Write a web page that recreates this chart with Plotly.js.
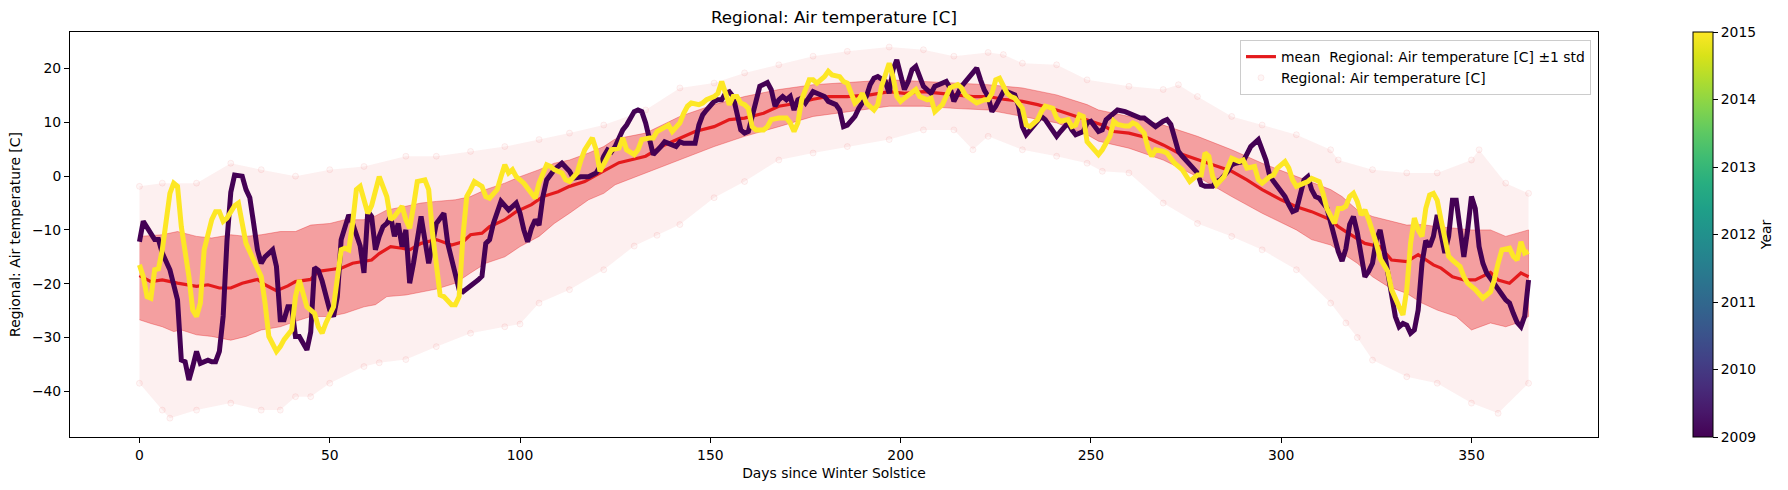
<!DOCTYPE html>
<html><head><meta charset="utf-8">
<script src="https://cdn.plot.ly/plotly-3.0.1.min.js"></script>
<style>body{margin:0;background:#fff}</style>
</head><body>
<div id="chart" style="width:1788px;height:490px"></div>
<script>
// ---- data: [day since winter solstice, temperature C] ----
const year2009 = [[0,-12.2],[1,-8.4],[4,-11.8],[5,-11.8],[6,-14.3],[8,-17.4],[10,-23],[11,-34.2],[12,-34.5],[13,-37.9],[14,-35.4],[15,-32.6],[16,-34.8],[18,-34.2],[19,-34.5],[20,-34.5],[21,-32.6],[22,-26],[23,-12],[24,-3],[25,0.2],[27,0],[28,-2.5],[29,-4],[30,-8.8],[31,-13.7],[32,-16.2],[33,-15],[35,-13.7],[36,-16.8],[37,-26.7],[38,-26.7],[39,-24.3],[40,-24.3],[41,-29.8],[42,-29.8],[44,-32.3],[45,-29],[46,-17],[47,-17.5],[48,-19.5],[49,-22.4],[50,-24.9],[51,-26.1],[52,-22.4],[53,-11.8],[55,-7.2],[56,-8.8],[58,-13],[59,-18],[60,-6.5],[61,-7.5],[62,-13.7],[63,-11.2],[64,-9.4],[65,-8.8],[66,-7.5],[67,-11.2],[68,-8.8],[69,-13.1],[70,-10],[71,-19.9],[72,-16.2],[74,-7.5],[76,-16.2],[78,-8.8],[80,-6.9],[81,-12.5],[84,-21.1],[85,-21.5],[87,-20.5],[89,-19.3],[90,-18.6],[91,-12.5],[92,-11.8],[93,-8.8],[95,-4.7],[96,-5.6],[97,-6.3],[99,-5],[100,-6.9],[101,-10],[102,-12.2],[103,-9.7],[104,-8.1],[105,-9.1],[106,-3.8],[107,-0.7],[109,1.2],[111,2.4],[113,0.9],[114,-0.4],[116,-0.1],[118,-0.1],[120,0.6],[121,1.8],[122,3.7],[123,4.9],[124,4.5],[125,5.5],[127,8.6],[128,9.5],[130,12],[131,12.3],[132,12],[133,9.9],[134,6.8],[135,4],[137,5.5],[138,6.4],[139,6.1],[141,5.5],[142,6.4],[143,6.1],[145,6.1],[146,6.1],[147,9.5],[148,11.4],[149,12.3],[151,13.9],[152,14.2],[153,14.2],[154,15.4],[155,15.7],[156,14.8],[157,11.1],[158,8.6],[159,8],[160,8.3],[161,11.1],[162,14.2],[163,16.7],[165,17.4],[166,16.1],[167,13],[168,14.2],[169,14.8],[170,14.2],[171,14.8],[172,12.3],[173,14.2],[174,14.5],[175,13.6],[177,15.7],[178,15.4],[180,14.8],[181,13.9],[183,13.3],[184,12.3],[185,9.2],[186,9.5],[187,10.5],[188,11.1],[189,12.6],[191,14.8],[192,17],[193,18.2],[194,18.5],[196,17.6],[197,15.4],[198,19.8],[199,21.6],[200,18.5],[201,16.1],[202,17.6],[203,19.8],[204,20.4],[205,18.8],[206,16.7],[208,15.4],[209,16.7],[210,17],[212,17.6],[213,16.4],[214,13.9],[216,16.7],[217,17.6],[218,18.5],[220,20.1],[221,17.9],[222,16],[223,14.8],[224,12],[225,13],[226,14.2],[227,15.7],[228,15.7],[230,15.1],[231,13],[232,9.2],[233,7.7],[234,8.6],[236,10.2],[237,11.1],[238,10.5],[240,8.6],[241,7.4],[242,8.3],[244,9.9],[245,8.6],[246,7.7],[248,8.3],[249,9.9],[250,10.2],[251,9.2],[252,8.3],[253,8.6],[254,10.5],[256,11.7],[257,12.3],[259,12],[260,11.7],[262,11.1],[263,10.8],[264,10.8],[266,9.9],[267,9.2],[269,10.2],[270,10.5],[271,9.6],[272,6.8],[273,4.6],[274,3.7],[276,2.1],[278,0.6],[279,-1.6],[280,-1.9],[282,-1.9],[283,-1],[284,-0.7],[286,0.9],[287,2.1],[288,2.4],[290,2.7],[291,3.9],[292,5.5],[294,6.8],[295,5],[296,3],[297,0],[298,-1],[299,-1.9],[301,-3.8],[302,-5.3],[303,-6.6],[304,-6.3],[305,-3.2],[306,-0.7],[307,-0.1],[308,-2.5],[309,-3.8],[310,-4.1],[312,-5.9],[313,-8.8],[314,-11.8],[315,-14],[316,-15.8],[317,-13.5],[318,-9],[319,-7.5],[320,-10.5],[321,-15],[322,-18.7],[323,-17.7],[324,-16.2],[325,-11.8],[326,-10],[327,-13.7],[328,-18.1],[329,-22.4],[330,-26.1],[331,-28],[332,-27.4],[333,-27.7],[334,-29.2],[335,-28.6],[336,-24.9],[337,-16.2],[338,-12],[339,-13.1],[340,-11.2],[341,-7.2],[342,-10.3],[343,-14.3],[344,-11.2],[345,-4.5],[346,-4.5],[347,-10.6],[348,-15],[349,-10],[350,-3.8],[351,-6],[352,-13.1],[353,-16.2],[354,-18],[355,-19],[356,-19.9],[357,-21.1],[358,-22],[359,-23],[360,-23.6],[361,-25.5],[362,-27.2],[363,-28],[364,-26],[365,-19.3]];

const year2015 = [[0,-16.5],[1,-18.7],[2,-22.4],[3,-22.7],[4,-17.4],[5,-17.2],[6,-13.7],[8,-3.2],[9,-1.3],[10,-1.9],[11,-9.4],[13,-18.7],[14,-24.9],[15,-26.1],[16,-23.6],[17,-13.7],[19,-8.1],[20,-6.6],[21,-6.6],[22,-8.4],[23,-7.8],[25,-5.5],[26,-5],[27,-8.8],[28,-12.5],[30,-15.6],[31,-17.4],[32,-18.7],[33,-23.6],[34,-29.8],[36,-32.6],[37,-31.7],[38,-30.4],[40,-28.6],[41,-22.4],[42,-19.3],[43,-21.8],[44,-24.3],[46,-25.5],[47,-28],[48,-29.2],[49,-27.3],[51,-24.3],[52,-18.7],[53,-13.7],[54,-13.4],[55,-13.7],[56,-8.8],[57,-2.5],[58,-1.9],[59,-4.4],[60,-6.9],[61,-5.5],[62,-2.5],[63,-0.1],[65,-3.8],[66,-8.1],[67,-7.5],[69,-5.6],[70,-8.1],[71,-9.7],[72,-5.6],[73,-1],[75,-0.7],[76,-2.5],[77,-10.6],[78,-17.4],[79,-22.1],[80,-22.4],[82,-23.9],[83,-23.9],[84,-22.4],[85,-11.2],[86,-3.8],[87,-2.5],[88,-1],[90,-1.9],[91,-3.8],[92,-4.1],[94,-2.5],[95,-0.1],[96,2.1],[97,0.6],[98,1.2],[99,-0.1],[101,-1.3],[103,-3.2],[104,-4.1],[105,-1.3],[107,2.1],[108,1.8],[109,1.2],[111,0.6],[112,-0.7],[113,-1],[115,0.6],[116,3],[117,4.9],[119,7.1],[120,4.9],[121,0.9],[122,2.1],[123,3.7],[124,4.9],[126,5.2],[127,7.1],[128,4.9],[130,4],[131,4.9],[132,6.8],[134,7.1],[135,7.1],[136,8.3],[138,9.2],[139,9.5],[140,8.3],[142,9.9],[143,11.7],[144,13],[145,13.6],[147,13.3],[148,13.6],[149,14.2],[151,14.8],[152,15.4],[153,17.6],[154,15.4],[155,13.3],[156,14.8],[157,14.8],[158,13.6],[159,13.3],[160,12.6],[161,9.2],[162,8.6],[164,8.6],[165,9.2],[166,10.5],[168,10.8],[170,10.8],[171,9.9],[172,8.3],[173,9.9],[174,14.2],[176,17.9],[177,17.9],[178,17.3],[180,18.5],[181,19.5],[182,18.8],[184,18.5],[185,17.6],[186,17.3],[187,15.4],[188,13.6],[189,14.2],[190,15.4],[191,13.6],[193,12.3],[194,13.3],[195,16.7],[197,21],[198,18.5],[199,14.8],[200,13.9],[201,14.5],[203,15.7],[204,16.1],[205,14.8],[207,14.2],[208,14.5],[209,12],[211,13.3],[212,14.8],[213,16.4],[215,17],[216,16.4],[217,15.1],[219,13.9],[220,13.6],[222,14.2],[223,14.2],[224,15.4],[225,17.9],[226,18.2],[228,15.4],[229,14.8],[230,14.5],[232,12.6],[233,9.5],[234,9.2],[236,10.5],[237,12],[238,13],[240,12.6],[241,10.8],[242,10.2],[244,10.5],[245,9.2],[246,9.5],[247,11.4],[248,11.1],[249,6.4],[251,4.9],[252,4],[253,4.9],[255,7.4],[256,10.2],[257,9.6],[259,9.3],[260,9.3],[261,9.9],[262,9.6],[264,8],[265,5.2],[266,3.7],[267,4.9],[269,4.6],[270,4.3],[271,3.3],[272,2.4],[274,1.2],[275,0.2],[276,-1],[278,0.2],[279,0.2],[280,4.3],[281,3.7],[282,-0.1],[283,-1.6],[285,-0.1],[286,1.8],[287,3.3],[289,2.7],[290,3],[291,1.5],[293,1.8],[294,-0.7],[295,-1.3],[297,-0.1],[298,0.2],[299,1.5],[301,2.7],[302,1.5],[303,-0.7],[304,-1.9],[306,-1.3],[307,-1],[308,-0.4],[310,-1],[311,-3.2],[312,-6],[314,-8.8],[315,-6],[316,-6],[317,-5.6],[318,-3.8],[319,-3.2],[320,-4.7],[321,-7.2],[322,-6.3],[323,-8.1],[325,-12.5],[326,-15.3],[327,-16.5],[328,-17.7],[329,-21.1],[330,-23],[331,-24.3],[332,-25.8],[333,-21.1],[334,-12.5],[335,-7.8],[336,-10],[337,-11.2],[338,-6],[339,-3.5],[340,-3.2],[341,-4.5],[342,-8.1],[343,-11.6],[344,-14.9],[345,-15.6],[347,-16.8],[348,-18.7],[349,-19.9],[351,-21.1],[352,-21.8],[353,-22.7],[355,-21.5],[356,-19.3],[357,-16.2],[358,-13.7],[360,-13.4],[361,-14.9],[362,-15.6],[363,-12.2],[364,-14.3],[365,-14]];

const meanTemp = [[0,-18.5],[3,-19.6],[6,-19.3],[10,-19.9],[15,-20.5],[18,-20.2],[21,-20.8],[24,-20.8],[27,-19.9],[31,-19.2],[33,-20.2],[36,-21.3],[39,-20.4],[41,-19.6],[45,-19.2],[47,-17.7],[50,-17.4],[53,-17.1],[56,-16.2],[59,-15.9],[61,-15.6],[63,-14.4],[66,-13.1],[69,-13.4],[71,-13.7],[74,-12.5],[78,-11.8],[82,-12.8],[85,-12.2],[87,-10.9],[90,-10.6],[92,-9.4],[96,-8.1],[99,-6.6],[103,-5.3],[106,-3.8],[110,-2.9],[113,-1.9],[117,-1],[120,0.2],[124,1.8],[126,2.5],[129,3],[133,3.7],[138,5.8],[142,7.1],[146,8.3],[151,9.2],[155,10.5],[159,10.8],[164,11.7],[168,13],[173,13.6],[177,14.3],[181,14.8],[186,14.8],[190,15],[192,15.1],[197,15.7],[201,15.4],[206,15.7],[210,15.4],[214,15.1],[219,14.8],[223,14.8],[227,14.3],[232,13.9],[236,13.3],[241,12.3],[245,11.4],[249,10.5],[253,9.5],[256,8.3],[260,8],[265,7.1],[269,5.8],[273,4.3],[278,3],[282,2.1],[287,0.9],[291,-0.7],[295,-2.5],[300,-4.4],[304,-5.7],[308,-6.6],[313,-8.1],[315,-9.4],[317,-10.3],[319,-11.2],[322,-12.5],[326,-13.1],[329,-15.6],[333,-15.9],[336,-14.6],[340,-16.5],[342,-17.1],[345,-18.7],[348,-19.3],[351,-19.3],[355,-17.9],[357,-19.3],[360,-19.9],[363,-18],[365,-18.7]];

const stdUpper = [[0,-11.2],[6,-10.9],[10,-10.3],[15,-11.2],[19,-11.5],[24,-10.9],[28,-11.2],[32,-10.9],[37,-10.3],[41,-10.3],[45,-9.1],[50,-8.8],[54,-8.1],[59,-8.1],[62,-7.4],[65,-6.3],[70,-5.6],[74,-5],[78,-4.7],[83,-4.4],[87,-3.8],[91,-2.5],[96,-1.3],[100,-0.1],[105,1.2],[109,2.4],[113,3],[118,4.3],[122,5.5],[125,6.9],[133,8],[142,11.1],[151,13.3],[159,14.8],[168,16.1],[177,17],[186,17.4],[190,17.6],[197,17.9],[206,17.6],[214,17.3],[223,17],[232,16.4],[241,15.1],[249,13.3],[252,12.3],[260,11.1],[269,9.5],[278,7.4],[287,4.9],[295,2.4],[304,-0.1],[313,-2.5],[316,-3.8],[320,-6.3],[324,-7.5],[328,-8.2],[333,-9.1],[337,-9],[341,-9.4],[346,-9.7],[350,-10],[355,-10],[359,-11.2],[362,-10.6],[365,-10]];

const stdLower = [[0,-26.7],[3,-27.4],[6,-28],[9,-28.9],[11,-28.6],[15,-29.5],[19,-29.8],[24,-30.5],[28,-29.8],[32,-28.6],[37,-28],[41,-27],[45,-26.1],[50,-26.1],[54,-25.5],[59,-24.3],[62,-23.9],[65,-22.4],[70,-22.1],[74,-21.5],[78,-21],[83,-19.9],[87,-18],[91,-16.2],[96,-15],[100,-13.1],[105,-11.2],[109,-8.8],[113,-6.9],[118,-4.4],[122,-3.2],[125,-1.6],[133,0.6],[142,3],[151,5.5],[159,7.4],[168,9.2],[177,11.1],[186,12],[190,12.3],[197,13],[206,13],[214,12.6],[223,12.3],[232,11.1],[241,9.9],[249,7.7],[252,6.5],[260,5.2],[269,3],[278,-0.1],[287,-3.8],[295,-6.9],[304,-10],[308,-11.8],[313,-12.8],[316,-14.3],[320,-16.2],[324,-18.7],[328,-20.5],[333,-21.8],[337,-23.6],[341,-24.9],[346,-26.1],[350,-28.6],[355,-27.3],[359,-28],[362,-27.3],[365,-26.1]];

// outermost daily observations (scatter cloud edges)
const obsHigh = [[0,-1.9],[6,-1.3],[15,-1.3],[24,2.4],[32,1.2],[41,0],[50,1.2],[59,1.8],[70,3.7],[78,3.7],[87,4.6],[96,5.5],[105,6.8],[113,8],[122,9.5],[133,12.3],[142,16.4],[151,17.3],[159,19.2],[168,20.7],[177,22.3],[186,23.2],[197,24],[206,23.5],[214,22.3],[223,23],[227,22.6],[232,21],[241,20.7],[249,17.9],[260,16.7],[269,16.1],[273,17],[278,14.8],[287,11.1],[295,9.5],[304,7.7],[313,4.9],[315,3],[324,1.2],[333,0.6],[341,0.6],[350,3],[352,4.9],[359,-1.3],[365,-3.2]];
const obsLow = [[0,-38.5],[6,-43.5],[8,-45],[15,-43.5],[24,-42.2],[32,-43.5],[37,-43.5],[41,-41],[45,-41],[50,-38.5],[59,-35.4],[63,-34.7],[70,-34.1],[78,-31.7],[87,-29.2],[96,-28],[100,-27.5],[105,-23.6],[113,-21.1],[122,-17.4],[130,-13],[136,-11],[142,-9],[151,-4],[159,-1],[168,3],[177,4.3],[186,5.5],[197,6.8],[206,8.6],[214,8.6],[219,4.9],[223,7.4],[232,4.9],[241,3.7],[249,2.4],[253,0.9],[260,0.6],[269,-5],[278,-8.8],[287,-11.2],[295,-13.7],[304,-17.4],[313,-23.6],[317,-27.3],[320,-30],[324,-34.2],[333,-37.3],[341,-38.5],[350,-42.2],[357,-44.1],[365,-38.5]];

const years = [2009, 2015];
const yearColors = ['#440154', '#fde725'];
const xTicks = [0, 50, 100, 150, 200, 250, 300, 350];
const yTicks = [-40, -30, -20, -10, 0, 10, 20];
const cbTicks = [2009, 2010, 2011, 2012, 2013, 2014, 2015];

// ---- helpers ----
const xs = a => a.map(p => p[0]);
const ys = a => a.map(p => p[1]);
const poly = (hi, lo) => ({
  x: xs(hi).concat(xs(lo).slice().reverse()),
  y: ys(hi).concat(ys(lo).slice().reverse())
});

const RED = '#e41a1c';
const FONT = 'DejaVu Sans, Verdana, sans-serif';
const cloudPoly = poly(obsHigh, obsLow);
const bandPoly = poly(stdUpper, stdLower);

const traces = [
  {x: cloudPoly.x, y: cloudPoly.y, type: 'scatter', mode: 'lines', fill: 'toself',
   fillcolor: 'rgba(228,26,28,0.065)', line: {width: 0}, hoverinfo: 'skip', showlegend: false},
  {x: xs(obsHigh).concat(xs(obsLow)), y: ys(obsHigh).concat(ys(obsLow)), type: 'scatter', mode: 'markers',
   name: 'Regional: Air temperature [C]', legendrank: 2,
   marker: {size: 6, color: 'rgba(228,26,28,0.04)', line: {color: 'rgba(228,26,28,0.07)', width: 1}}},
  {x: bandPoly.x, y: bandPoly.y, type: 'scatter', mode: 'lines', fill: 'toself',
   fillcolor: 'rgba(228,26,28,0.38)', line: {width: 1, color: 'rgba(228,26,28,0.35)'}, hoverinfo: 'skip', showlegend: false},
  {x: xs(meanTemp), y: ys(meanTemp), type: 'scatter', mode: 'lines', legendrank: 1,
   name: 'mean\u00a0 Regional: Air temperature [C] \u00b11 std', line: {color: RED, width: 3.2}},
];
[year2009, year2015].forEach((series, i) => {
  traces.push({x: xs(series), y: ys(series), type: 'scatter', mode: 'lines', showlegend: false,
    name: String(years[i]), line: {color: yearColors[i], width: 5}});
});
traces.push({x: [null], y: [null], type: 'scatter', mode: 'markers', showlegend: false, hoverinfo: 'skip',
  marker: {color: [years[0]], cmin: years[0], cmax: years[years.length-1], colorscale: 'Viridis', showscale: true, size: 1,
    colorbar: {x: 1.0622, xanchor: 'left', xpad: 0, ypad: 0, y: 0.5, yanchor: 'middle', len: 1, lenmode: 'fraction',
      thickness: 20, thicknessmode: 'pixels', outlinewidth: 1, outlinecolor: '#000',
      tickmode: 'array', tickvals: cbTicks, ticktext: cbTicks.map(String), ticks: 'outside', ticklen: 5, tickcolor: '#000',
      tickfont: {family: FONT, size: 13.9, color: '#000'},
      title: {text: 'Year', side: 'right', font: {family: FONT, size: 13.9, color: '#000'}}}}});

const axisCommon = {showgrid: false, zeroline: false, showline: true, mirror: true, linecolor: '#000', linewidth: 1,
  ticks: 'outside', ticklen: 5, tickcolor: '#000', tickfont: {family: FONT, size: 13.9, color: '#000'}, automargin: false};

const layout = {
  width: 1788, height: 490,
  margin: {l: 70, r: 190, t: 32, b: 53},
  paper_bgcolor: '#fff', plot_bgcolor: '#fff',
  font: {family: FONT, size: 13.9, color: '#000'},
  title: {text: 'Regional: Air temperature [C]', x: 0.5, xref: 'paper', xanchor: 'center',
    y: 1 - 17/490, yref: 'container', yanchor: 'middle', font: {family: FONT, size: 16.7, color: '#000'}},
  xaxis: Object.assign({}, axisCommon, {range: [-18.25, 383.25], tickmode: 'array', tickvals: xTicks,
    title: {text: 'Days since Winter Solstice', standoff: 6, font: {family: FONT, size: 13.9, color: '#000'}}}),
  yaxis: Object.assign({}, axisCommon, {range: [-48.5, 26.8], tickmode: 'array', tickvals: yTicks,
    title: {text: 'Regional: Air temperature [C]', standoff: 8, font: {family: FONT, size: 13.9, color: '#000'}}}),
  legend: {x: 0.9954, xanchor: 'right', y: 0.98, yanchor: 'top', bgcolor: 'rgba(255,255,255,0.8)',
    bordercolor: '#cccccc', borderwidth: 1, font: {family: FONT, size: 13.9, color: '#000'}},
  showlegend: true
};

Plotly.newPlot('chart', traces, layout, {staticPlot: true, displayModeBar: false});
</script>
</body></html>
